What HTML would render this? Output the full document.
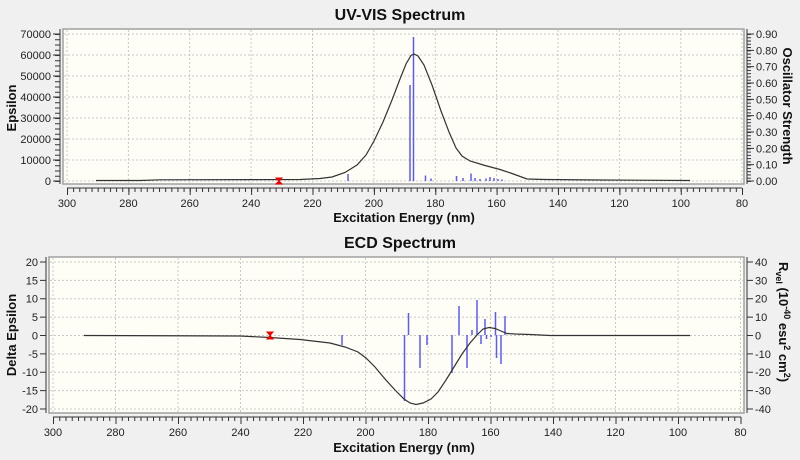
<!DOCTYPE html>
<html><head><meta charset="utf-8"><style>
html,body{margin:0;padding:0;background:#f0f0f0;}
svg{display:block;font-family:"Liberation Sans",Arial,sans-serif;}
</style></head><body>
<svg width="800" height="460" viewBox="0 0 800 460" xmlns="http://www.w3.org/2000/svg">
<defs>
<pattern id="mt1" x="67" y="0" width="6.136" height="460" patternUnits="userSpaceOnUse"><line x1="0.5" y1="188" x2="0.5" y2="192" stroke="#333" stroke-width="1"/></pattern>
<pattern id="mt2" x="53" y="0" width="6.25" height="460" patternUnits="userSpaceOnUse"><line x1="0.5" y1="417" x2="0.5" y2="421" stroke="#333" stroke-width="1"/></pattern>
<pattern id="ml1" x="0" y="181" width="800" height="5.25" patternUnits="userSpaceOnUse"><line x1="55" y1="0.5" x2="60" y2="0.5" stroke="#333"/></pattern>
<pattern id="mr1" x="0" y="181" width="800" height="3.2667" patternUnits="userSpaceOnUse"><line x1="747" y1="0.5" x2="751" y2="0.5" stroke="#333"/></pattern>
</defs>
<rect width="800" height="460" fill="#f0f0f0"/>

<!-- ===== TOP ===== -->
<text x="400" y="20" font-size="16" font-weight="bold" text-anchor="middle" fill="#111">UV-VIS Spectrum</text>
<rect x="63" y="29" width="681" height="155" fill="#fefef6" stroke="#a0a0a0" stroke-width="1.5"/>
<g stroke="#c8c8c8" stroke-dasharray="2,2" stroke-width="1">
<path d="M67 30V183M128.4 30V183M189.7 30V183M251.1 30V183M312.5 30V183M373.9 30V183M435.3 30V183M496.6 30V183M558 30V183M619.4 30V183M680.8 30V183M742 30V183"/>
<path d="M64 181H743M64 160H743M64 139H743M64 118H743M64 97H743M64 76H743M64 55H743M64 34H743"/>
</g>
<path d="M60 29V184" stroke="#333"/>
<rect x="54" y="34" width="7" height="148" fill="url(#ml1)"/>
<path d="M53 181H60M53 160H60M53 139H60M53 118H60M53 97H60M53 76H60M53 55H60M53 34H60" stroke="#333"/>
<g font-size="11" fill="#222" text-anchor="end">
<text x="51" y="185">0</text><text x="51" y="164">10000</text><text x="51" y="143">20000</text><text x="51" y="122">30000</text><text x="51" y="101">40000</text><text x="51" y="80">50000</text><text x="51" y="59">60000</text><text x="51" y="38">70000</text>
</g>
<text transform="translate(16,108) rotate(-90)" font-size="13" font-weight="bold" text-anchor="middle" fill="#111">Epsilon</text>
<path d="M747 29V184" stroke="#333"/>
<rect x="746" y="34" width="7" height="148" fill="url(#mr1)"/>
<path d="M747 181H754M747 164.67H754M747 148.33H754M747 132H754M747 115.67H754M747 99.33H754M747 83H754M747 66.67H754M747 50.33H754M747 34H754" stroke="#333"/>
<g font-size="11" fill="#222">
<text x="756" y="185">0.00</text><text x="756" y="168.7">0.10</text><text x="756" y="152.3">0.20</text><text x="756" y="136">0.30</text><text x="756" y="119.7">0.40</text><text x="756" y="103.3">0.50</text><text x="756" y="87">0.60</text><text x="756" y="70.7">0.70</text><text x="756" y="54.3">0.80</text><text x="756" y="38">0.90</text>
</g>
<text transform="translate(783,106) rotate(90)" font-size="13" font-weight="bold" text-anchor="middle" fill="#111">Oscillator Strength</text>
<path d="M67 188H742" stroke="#333"/>
<rect x="66" y="187" width="678" height="6" fill="url(#mt1)"/>
<path d="M67.5 188V195M128.9 188V195M190.2 188V195M251.6 188V195M313 188V195M374.4 188V195M435.8 188V195M497.1 188V195M558.5 188V195M619.9 188V195M681.3 188V195M742.5 188V195" stroke="#333"/>
<g font-size="11" fill="#222" text-anchor="middle">
<text x="67" y="207">300</text><text x="128.4" y="207">280</text><text x="189.7" y="207">260</text><text x="251.1" y="207">240</text><text x="312.5" y="207">220</text><text x="373.9" y="207">200</text><text x="435.3" y="207">180</text><text x="496.6" y="207">160</text><text x="558" y="207">140</text><text x="619.4" y="207">120</text><text x="680.8" y="207">100</text><text x="742" y="207">80</text>
</g>
<text x="404" y="222" font-size="13" font-weight="bold" text-anchor="middle" fill="#111">Excitation Energy (nm)</text>
<g stroke="#5a5aff" stroke-width="1.5">
<path d="M413.5 181V37M410 181V85M348 181V174M425.5 181V175.5M431 181V178.5M456.5 181V176M463 181V178M471 181V173.5M475 181V178M480 181V179M486 181V178.5M490 181V177M494 181V178M498 181V179M502 181V179.5"/>
</g>
<path d="M96 180.5L140 180.5L160 179.8L250 179.6L300 179.5L320 178.5L332 177L345 172.5L357 165L366 155L374 141L383 122L392 100L400 79L406 64L411 55.5L414 54L418 56L424 65L432 85L441 111L449 132L456 148L462 156L470 161L485 165.5L500 169.5L512 173.5L527 179L545 179.5L600 180L690 180.5" fill="none" stroke="#333" stroke-width="1.2"/>
<path d="M276 178H282L279 181L282 184H276L279 181Z" fill="#e00" stroke="#e00"/>

<!-- ===== BOTTOM ===== -->
<text x="400" y="248" font-size="16" font-weight="bold" text-anchor="middle" fill="#111">ECD Spectrum</text>
<rect x="49" y="257" width="695" height="156" fill="#fefef6" stroke="#a0a0a0" stroke-width="1.5"/>
<g stroke="#c8c8c8" stroke-dasharray="2,2" stroke-width="1">
<path d="M53 258V412M115.5 258V412M178 258V412M240.5 258V412M303 258V412M365.5 258V412M428 258V412M490.5 258V412M553 258V412M615.5 258V412M678 258V412M740.5 258V412"/>
<path d="M50 262H743M50 280.4H743M50 298.75H743M50 317.1H743M50 335.5H743M50 353.9H743M50 372.25H743M50 390.6H743M50 409H743"/>
</g>
<path d="M46 257V413" stroke="#333"/>
<path d="M40 262H46M40 280.4H46M40 298.75H46M40 317.1H46M40 335.5H46M40 353.9H46M40 372.25H46M40 390.6H46M40 409H46" stroke="#333"/>
<g font-size="11" fill="#222" text-anchor="end">
<text x="38" y="266">20</text><text x="38" y="284.4">15</text><text x="38" y="302.7">10</text><text x="38" y="321.1">5</text><text x="38" y="339.5">0</text><text x="38" y="357.9">-5</text><text x="38" y="376.2">-10</text><text x="38" y="394.6">-15</text><text x="38" y="413">-20</text>
</g>
<text transform="translate(16,335) rotate(-90)" font-size="13" text-anchor="middle" fill="#111" font-weight="bold">Delta Epsilon</text>
<path d="M747 257V413" stroke="#333"/>
<path d="M747 262H753M747 280.4H753M747 298.75H753M747 317.1H753M747 335.5H753M747 353.9H753M747 372.25H753M747 390.6H753M747 409H753" stroke="#333"/>
<g font-size="11" fill="#222">
<text x="755" y="266">40</text><text x="755" y="284.4">30</text><text x="755" y="302.7">20</text><text x="755" y="321.1">10</text><text x="755" y="339.5">0</text><text x="755" y="357.9">-10</text><text x="755" y="376.2">-20</text><text x="755" y="394.6">-30</text><text x="755" y="413">-40</text>
</g>
<text transform="translate(779,322) rotate(90)" font-size="13" font-weight="bold" text-anchor="middle" fill="#111">R<tspan font-size="9" dy="3">vel</tspan><tspan dy="-3"> (10</tspan><tspan font-size="9" dy="-5">-40</tspan><tspan dy="5"> esu</tspan><tspan font-size="9" dy="-5">2</tspan><tspan dy="5"> cm</tspan><tspan font-size="9" dy="-5">2</tspan><tspan dy="5">)</tspan></text>
<path d="M53 417H741" stroke="#333"/>
<rect x="52" y="416" width="690" height="6" fill="url(#mt2)"/>
<path d="M53.5 417V424M116 417V424M178.5 417V424M241 417V424M303.5 417V424M366 417V424M428.5 417V424M491 417V424M553.5 417V424M616 417V424M678.5 417V424M741 417V424" stroke="#333"/>
<g font-size="11" fill="#222" text-anchor="middle">
<text x="53" y="436">300</text><text x="115.5" y="436">280</text><text x="178" y="436">260</text><text x="240.5" y="436">240</text><text x="303" y="436">220</text><text x="365.5" y="436">200</text><text x="428" y="436">180</text><text x="490.5" y="436">160</text><text x="553" y="436">140</text><text x="615.5" y="436">120</text><text x="678" y="436">100</text><text x="740.5" y="436">80</text>
</g>
<text x="404" y="452" font-size="13" font-weight="bold" text-anchor="middle" fill="#111">Excitation Energy (nm)</text>
<g stroke="#5a5aff" stroke-width="1.5">
<path d="M342 335V345M404.5 335V401M408.5 335V313M420 335V368M427 335V345M452 335V373M459 335V306M467 335V368M472 335V330M477 335V300M481 335V344M485 335V319M486.5 335V339M491 335V337M495.5 335V312M496.5 335V358M501 335V364M505 335V316"/>
</g>
<path d="M84 335.5L240 336L270 337.5L300 339.5L330 343L345 347L358 352L366 358L375 367L385 379L395 390L404 399L410 403L416 404.5L423 403L431 399L438 392L446 380L454 367L462 354L470 343L477 335L483 329L489 327.5L495 328.5L501 331L507 333.5L515 334L530 334.5L550 335.5L690 335.5" fill="none" stroke="#333" stroke-width="1.2"/>
<path d="M267 332H273L270 335.5L273 339H267L270 335.5Z" fill="#e00" stroke="#e00"/>
</svg>
</body></html>
